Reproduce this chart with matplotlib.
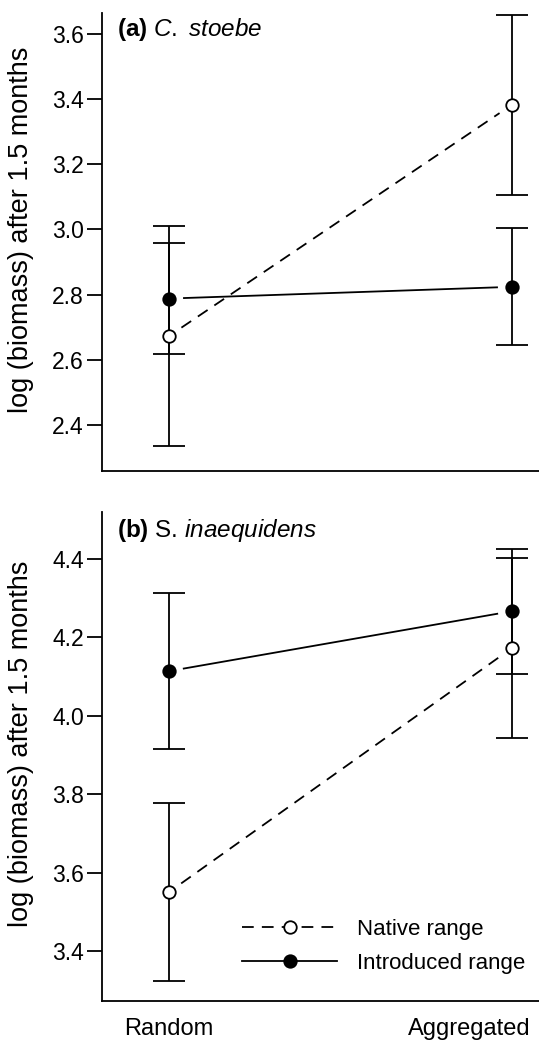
import numpy as np
import matplotlib
matplotlib.use("Agg")
import matplotlib.pyplot as plt
import matplotlib.transforms as mtransforms
from matplotlib.lines import Line2D

plt.rcParams['font.family'] = ['Liberation Sans', 'DejaVu Sans']
plt.rcParams['mathtext.fontset'] = 'custom'
plt.rcParams['mathtext.rm'] = 'Liberation Sans'
plt.rcParams['mathtext.it'] = 'Liberation Sans:italic'
plt.rcParams['mathtext.bf'] = 'Liberation Sans:bold'

# data
treatments = ["Random", "Aggregated"]
xpos = [1, 2]

# (a) C. stoebe
a_native_mean = [2.673, 3.383]
a_native_se = [0.337, 0.276]
a_intro_mean = [2.788, 2.824]
a_intro_se = [0.170, 0.180]
a_ticks = [2.4, 2.6, 2.8, 3.0, 3.2, 3.4, 3.6]

# (b) S. inaequidens
b_native_mean = [3.550, 4.173]
b_native_se = [0.228, 0.230]
b_intro_mean = [4.114, 4.267]
b_intro_se = [0.199, 0.160]
b_ticks = [3.4, 3.6, 3.8, 4.0, 4.2, 4.4]

fig = plt.figure(figsize=(5.39, 10.41), dpi=100)
ax1 = fig.add_axes([0.1892, 0.5476, 0.8108, 0.4399])
ax2 = fig.add_axes([0.1892, 0.0384, 0.8108, 0.4697])

LW = 1.3
DASH = (0, (6.5, 4.5))
GAP = 15  # px gap between line and points (R type="b")


def gapped_line(ax, xs, ys, **kw):
    p = ax.transData.transform(np.column_stack([xs, ys]))
    d = p[1] - p[0]
    u = d / np.hypot(*d)
    q = np.array([p[0] + u * GAP, p[1] - u * GAP])
    q = ax.transData.inverted().transform(q)
    ax.plot(q[:, 0], q[:, 1], color='black', lw=LW, **kw)


def panel(ax, nat_m, nat_se, int_m, int_se, ticks, ylim, title):
    ax.set_xlim(0.8047, 2.0787)
    ax.set_ylim(*ylim)
    for s in ['top', 'right']:
        ax.spines[s].set_visible(False)
    for s in ['left', 'bottom']:
        ax.spines[s].set_linewidth(1.3)
    ax.set_yticks(ticks)
    ax.set_yticklabels([f"{t:.1f}" for t in ticks])
    ax.tick_params(axis='y', length=11, width=1.3, pad=2, labelsize=16.5)
    ax.set_xticks(xpos)
    ax.set_xticklabels([])
    ax.tick_params(axis='x', length=0)

    for m, se in [(nat_m, nat_se), (int_m, int_se)]:
        ax.errorbar(xpos, m, yerr=se, fmt='none', ecolor='black',
                    elinewidth=LW, capsize=11.5, capthick=LW, zorder=2)

    gapped_line(ax, xpos, nat_m, linestyle=DASH, zorder=1)
    gapped_line(ax, xpos, int_m, linestyle='-', zorder=1)

    ax.plot(xpos, nat_m, 'o', ms=9, mfc='white', mec='black', mew=1.3,
            linestyle='none', zorder=3)
    ax.plot(xpos, int_m, 'o', ms=9, mfc='black', mec='black', mew=1.3,
            linestyle='none', zorder=3)

    ax.text(0.034, 0.95, title, transform=ax.transAxes, fontsize=17.5,
            ha='left', va='baseline')
    ax.set_ylabel("log (biomass) after 1.5 months", fontsize=19.5)
    ax.yaxis.set_label_coords(-0.155, 0.526)


panel(ax1, a_native_mean, a_native_se, a_intro_mean, a_intro_se,
      a_ticks, (2.2589, 3.6644), r"$\mathbf{(a)}$ $\mathit{C.}$ $\mathit{stoebe}$")
panel(ax2, b_native_mean, b_native_se, b_intro_mean, b_intro_se,
      b_ticks, (3.272, 4.52), r"$\mathbf{(b)}$ S. $\mathit{inaequidens}$")

ax2.set_xticklabels(treatments, fontsize=17)
ax2.tick_params(axis='x', pad=12)
# last label sits flush with the right edge, as in the original
lab = ax2.get_xticklabels()[-1]
lab.set_horizontalalignment('right')
lab.set_transform(lab.get_transform() +
                  mtransforms.ScaledTranslation(0.19, 0, fig.dpi_scale_trans))

handles = [
    Line2D([], [], color='black', lw=LW, linestyle=DASH, marker='o', ms=9,
           mfc='white', mec='black', mew=1.3),
    Line2D([], [], color='black', lw=LW, linestyle='-', marker='o', ms=9,
           mfc='black', mec='black', mew=1.3),
]
ax2.legend(handles, ["Native range", "Introduced range"], loc='center left',
           bbox_to_anchor=(0.32, 0.112), frameon=False, fontsize=16,
           handlelength=4.3, handletextpad=0.9, labelspacing=0.6,
           borderpad=0, borderaxespad=0, numpoints=1)

fig.savefig("out.png", dpi=100)
